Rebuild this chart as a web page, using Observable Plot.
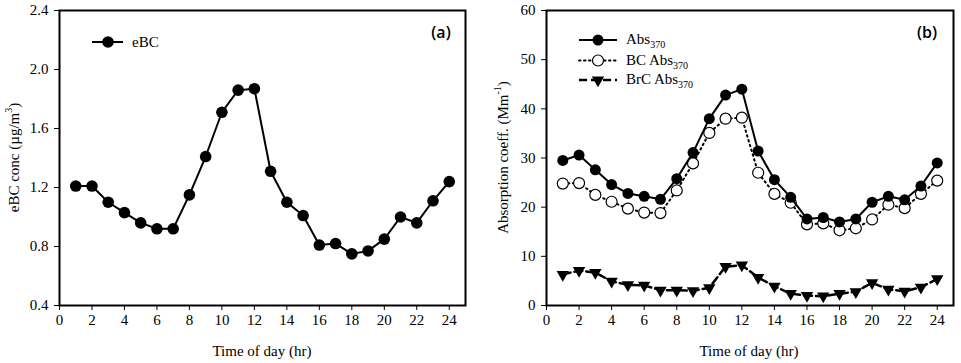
<!DOCTYPE html>
<html><head><meta charset="utf-8">
<script src="https://cdn.jsdelivr.net/npm/d3@7"></script>
<script src="https://cdn.jsdelivr.net/npm/@observablehq/plot@0.6"></script>
<style>
body{margin:0;background:#fff;}
#wrap{display:flex;width:961px;height:363px;overflow:hidden;}
#wrap svg{display:block;}
</style></head><body><div id="wrap"></div>
<script>
const hours = [1,2,3,4,5,6,7,8,9,10,11,12,13,14,15,16,17,18,19,20,21,22,23,24];
const eBC = [1.21,1.21,1.10,1.03,0.96,0.92,0.92,1.15,1.41,1.71,1.86,1.87,1.31,1.10,1.01,0.81,0.82,0.75,0.77,0.85,1.00,0.96,1.11,1.24];
const abs370 = [29.5,30.6,27.6,24.6,22.8,22.2,21.6,25.8,31.1,38.0,42.8,44.0,31.4,25.6,22.0,17.6,17.9,17.0,17.6,21.0,22.2,21.5,24.3,29.0];
const bcAbs370 = [24.8,24.9,22.5,21.1,19.7,18.9,18.8,23.4,28.9,35.1,38.0,38.2,27.0,22.7,20.9,16.5,16.7,15.3,15.7,17.5,20.5,19.8,22.7,25.4];
const brcAbs370 = [6.3,7.1,6.7,4.9,4.2,4.1,3.1,3.1,3.0,3.6,7.9,8.2,5.7,3.9,2.4,2.0,1.9,2.4,2.8,4.6,3.3,2.9,3.7,5.4];
const xTicks = [0,2,4,6,8,10,12,14,16,18,20,22,24];
const yTicksA = [0.4,0.8,1.2,1.6,2.0,2.4];
const yTicksB = [0,10,20,30,40,50,60];
const xLabel = "Time of day (hr)";

const serif = "'Liberation Serif', 'Times New Roman', serif";
const dataA = hours.map((h,i)=>({h, v: eBC[i]}));
const dataB = hours.map((h,i)=>({h, abs: abs370[i], bc: bcAbs370[i], brc: brcAbs370[i]}));

function axes(yTicks, fmt){
  return [
    Plot.axisX({ticks: xTicks, tickSize: 5, tickPadding: 4, fontSize: 15, label: null}),
    Plot.axisY({ticks: yTicks, tickSize: 5, tickPadding: 6, fontSize: 15, label: null, tickFormat: fmt}),
  ];
}

const svgA = Plot.plot({
  width: 480, height: 363,
  marginLeft: 59, marginRight: 15, marginTop: 10, marginBottom: 58,
  style: {fontFamily: serif, fontSize: "15px", background: "#fff", color: "#000"},
  x: {domain: [0,25]},
  y: {domain: [0.4,2.4]},
  marks: [
    ...axes(yTicksA, d3.format(".1f")),
    Plot.line(dataA, {x: "h", y: "v", stroke: "black", strokeWidth: 2}),
    Plot.dot(dataA, {x: "h", y: "v", r: 5.8, fill: "black", stroke: "none"}),
    Plot.frame({stroke: "black", strokeWidth: 2})
  ]
});

const svgB = Plot.plot({
  width: 481, height: 363,
  marginLeft: 66, marginRight: 8, marginTop: 10, marginBottom: 58,
  style: {fontFamily: serif, fontSize: "15px", background: "#fff", color: "#000"},
  x: {domain: [0,25]},
  y: {domain: [0,60]},
  marks: [
    ...axes(yTicksB, d3.format("d")),
    Plot.line(dataB, {x: "h", y: "brc", stroke: "black", strokeWidth: 2.5, strokeDasharray: "8,4"}),
    Plot.dot(dataB, {x: "h", y: "brc", symbol: "triangle", rotate: 180, r: 4.6, fill: "black", stroke: "none"}),
    Plot.line(dataB, {x: "h", y: "bc", stroke: "black", strokeWidth: 2, strokeDasharray: "1.5,3.5", strokeLinecap: "round"}),
    Plot.dot(dataB, {x: "h", y: "bc", r: 5.5, fill: "white", stroke: "black", strokeWidth: 1.2}),
    Plot.line(dataB, {x: "h", y: "abs", stroke: "black", strokeWidth: 2}),
    Plot.dot(dataB, {x: "h", y: "abs", r: 5.5, fill: "black", stroke: "none"}),
    Plot.frame({stroke: "black", strokeWidth: 2})
  ]
});

function addText(svg, opts){
  const s = d3.select(svg);
  s.append("text").attr("x", opts.xc).attr("y", 356).attr("text-anchor","middle")
    .attr("font-family", serif).attr("font-size", 15).text(xLabel);
  const yl = s.append("text").attr("transform", `translate(${opts.yx},${157.5}) rotate(-90)`)
    .attr("text-anchor","middle").attr("dominant-baseline","middle")
    .attr("font-family", serif).attr("font-size", 15);
  yl.append("tspan").text(opts.yMain);
  yl.append("tspan").attr("font-size", 10).attr("dy", -6).text(opts.ySup);
  yl.append("tspan").attr("dy", 6).text(opts.yEnd);
  s.append("text").attr("x", opts.tagX).attr("y", 38).attr("text-anchor","middle")
    .attr("font-family", "'Open Sans', 'Noto Sans', sans-serif").attr("font-weight", 600)
    .attr("font-size", 16).text(opts.tag);
}

addText(svgA, {xc: 262, yx: 16, yMain: "eBC conc (µg/m", ySup: "3", yEnd: ")", tagX: 441, tag: "(a)"});
addText(svgB, {xc: 269, yx: 25, yMain: "Absorption coeff. (Mm", ySup: "-1", yEnd: ")", tagX: 447, tag: "(b)"});

{
  const g = d3.select(svgA).append("g").attr("text-anchor", "start");
  g.append("line").attr("x1", 92).attr("x2", 123).attr("y1", 42).attr("y2", 42).attr("stroke","black").attr("stroke-width",2);
  g.append("circle").attr("cx", 108).attr("cy", 42).attr("r", 5.8).attr("fill","black");
  g.append("text").attr("x", 132).attr("y", 47).attr("text-anchor","start").attr("font-family", serif).attr("font-size", 15).text("eBC");
}
{
  const g = d3.select(svgB).append("g").attr("text-anchor", "start");
  const rows = [
    {y: 40, dash: null, w: 2, kind: "filled", label: "Abs"},
    {y: 60.5, dash: "1.5,3.5", w: 2, kind: "open", label: "BC Abs"},
    {y: 80, dash: "8,4", w: 2.5, kind: "tri", label: "BrC Abs"}
  ];
  rows.forEach(r => {
    const ln = g.append("line").attr("x1", 99).attr("x2", 137).attr("y1", r.y).attr("y2", r.y)
      .attr("stroke","black").attr("stroke-width", r.w).attr("stroke-linecap", r.kind==="open" ? "round" : "butt");
    if (r.dash) ln.attr("stroke-dasharray", r.dash);
    if (r.kind === "filled") g.append("circle").attr("cx", 118).attr("cy", r.y).attr("r", 5.5).attr("fill","black");
    if (r.kind === "open") g.append("circle").attr("cx", 118).attr("cy", r.y).attr("r", 5.5).attr("fill","white").attr("stroke","black").attr("stroke-width",1.2);
    if (r.kind === "tri") g.append("path").attr("d", d3.symbol(d3.symbolTriangle, Math.PI*4.6*4.6)()).attr("transform", `translate(118,${r.y}) rotate(180)`).attr("fill","black");
    const t = g.append("text").attr("x", 146).attr("y", r.y + 4).attr("text-anchor","start").attr("font-family", serif).attr("font-size", 15);
    t.append("tspan").text(r.label);
    t.append("tspan").attr("font-size", 10).attr("dy", 4).text("370");
  });
}

document.getElementById("wrap").append(svgA, svgB);
</script>
</body></html>
